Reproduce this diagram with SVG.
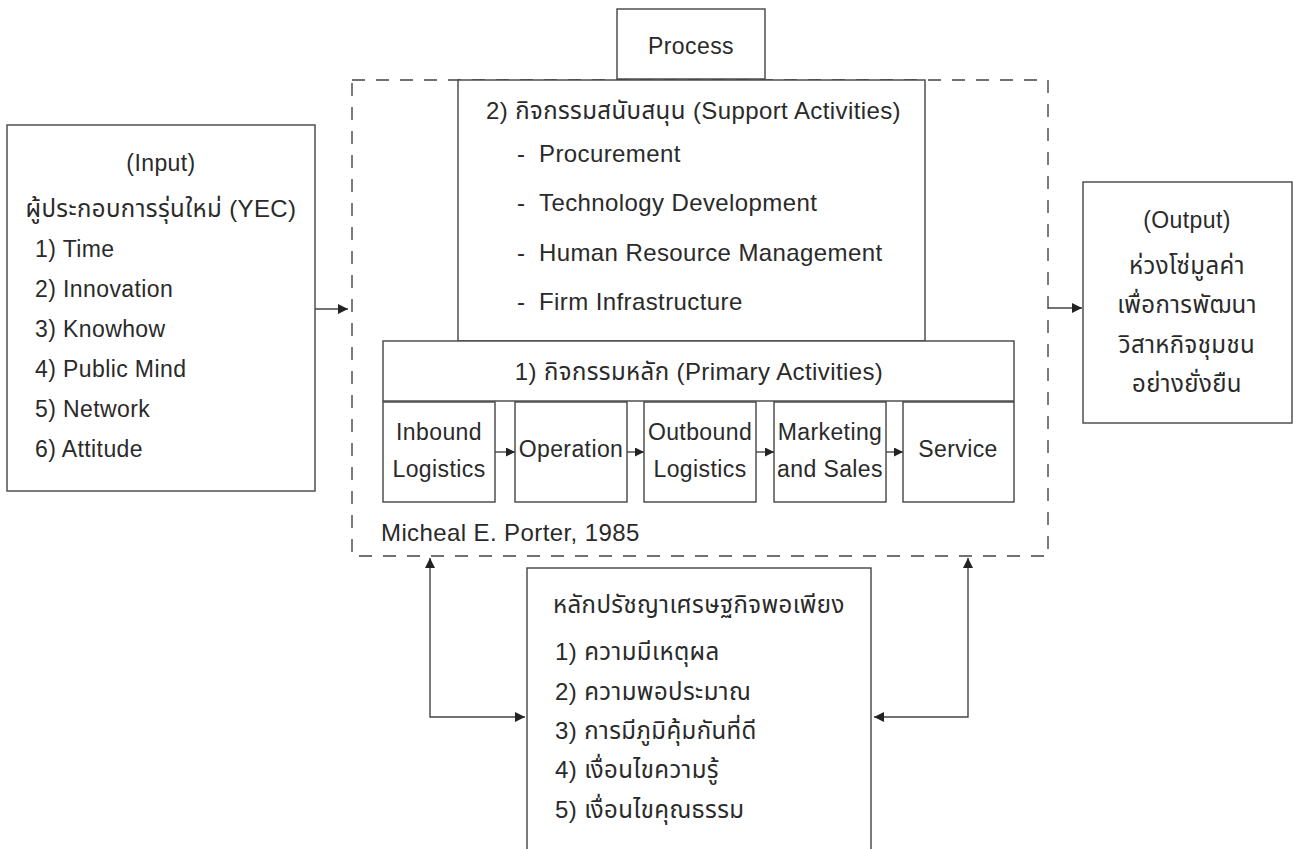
<svg xmlns="http://www.w3.org/2000/svg" width="1293" height="849" viewBox="0 0 1293 849">
<style>
  .box { fill: #ffffff; stroke: #444444; stroke-width: 1.4; }
  .dash { fill: none; stroke: #444444; stroke-width: 1.4; stroke-dasharray: 13 11; }
  .conn { fill: none; stroke: #444444; stroke-width: 1.4; }
  text { font-family: "Liberation Sans", "Noto Sans Thai", "Noto Sans", sans-serif; font-size: 23px; fill: #2a2a2a; letter-spacing: 0.4px; }
  .c { text-anchor: middle; }
  .th { font-size: 24px; }
</style>
<defs>
  <marker id="ah" viewBox="0 0 10 10" refX="10" refY="5" markerWidth="10" markerHeight="10" markerUnits="userSpaceOnUse" orient="auto-start-reverse">
    <path d="M0,0 L10,5 L0,10 z" fill="#222222"/>
  </marker>
  <marker id="ahs" viewBox="0 0 10 10" refX="10" refY="5" markerWidth="9" markerHeight="9" markerUnits="userSpaceOnUse" orient="auto">
    <path d="M0,0 L10,5 L0,10 z" fill="#222222"/>
  </marker>
</defs>
<rect width="1293" height="849" fill="#ffffff"/>

<g id="process-frame">
  <rect class="dash" x="352" y="80" width="696" height="476"/>
  <text class="th" x="381" y="541">Micheal E. Porter, 1985</text>
</g>

<g id="process-label">
  <rect class="box" x="617" y="9" width="148" height="70"/>
  <text class="c" x="691" y="54">Process</text>
</g>

<g id="input">
  <rect class="box" x="7" y="125" width="308" height="366"/>
  <text class="c" x="161" y="171">(Input)</text>
  <text class="c th" x="161" y="217">ผู้ประกอบการรุ่นใหม่ (YEC)</text>
  <text x="35" y="257">1) Time</text>
  <text x="35" y="297">2) Innovation</text>
  <text x="35" y="337">3) Knowhow</text>
  <text x="35" y="377">4) Public Mind</text>
  <text x="35" y="417">5) Network</text>
  <text x="35" y="457">6) Attitude</text>
</g>

<g id="support">
  <rect class="box" x="458" y="80" width="467" height="261"/>
  <text class="th" x="486" y="119">2) กิจกรรมสนับสนุน (Support Activities)</text>
  <text class="th" x="517" y="162">-<tspan x="539">Procurement</tspan></text>
  <text class="th" x="517" y="211">-<tspan x="539">Technology Development</tspan></text>
  <text class="th" x="517" y="261">-<tspan x="539">Human Resource Management</tspan></text>
  <text class="th" x="517" y="310">-<tspan x="539">Firm Infrastructure</tspan></text>
</g>

<g id="primary">
  <rect class="box" x="383" y="341" width="631" height="60"/>
  <text class="c th" x="699" y="380">1) กิจกรรมหลัก (Primary Activities)</text>
</g>

<g id="inbound">
  <rect class="box" x="383" y="402" width="112" height="100"/>
  <text class="c" x="439" y="440">Inbound</text>
  <text class="c" x="439" y="477">Logistics</text>
</g>
<g id="operation">
  <rect class="box" x="515" y="402" width="112" height="100"/>
  <text class="c" x="571" y="457">Operation</text>
</g>
<g id="outbound">
  <rect class="box" x="644" y="402" width="112" height="100"/>
  <text class="c" x="700" y="440">Outbound</text>
  <text class="c" x="700" y="477">Logistics</text>
</g>
<g id="marketing">
  <rect class="box" x="774" y="402" width="112" height="100"/>
  <text class="c" x="830" y="440">Marketing</text>
  <text class="c" x="830" y="477">and Sales</text>
</g>
<g id="service">
  <rect class="box" x="903" y="402" width="111" height="100"/>
  <text class="c" x="958" y="457">Service</text>
</g>

<g id="output">
  <rect class="box" x="1083" y="182" width="209" height="241"/>
  <text class="c" x="1187" y="228">(Output)</text>
  <text class="c th" x="1187" y="274">ห่วงโซ่มูลค่า</text>
  <text class="c th" x="1187" y="313">เพื่อการพัฒนา</text>
  <text class="c th" x="1187" y="353">วิสาหกิจชุมชน</text>
  <text class="c th" x="1187" y="392">อย่างยั่งยืน</text>
</g>

<g id="sufficiency">
  <rect class="box" x="527" y="568" width="344" height="320"/>
  <text class="th" x="553" y="613">หลักปรัชญาเศรษฐกิจพอเพียง</text>
  <text class="th" x="555" y="660">1) ความมีเหตุผล</text>
  <text class="th" x="555" y="700">2) ความพอประมาณ</text>
  <text class="th" x="555" y="739">3) การมีภูมิคุ้มกันที่ดี</text>
  <text class="th" x="555" y="778">4) เงื่อนไขความรู้</text>
  <text class="th" x="555" y="818">5) เงื่อนไขคุณธรรม</text>
</g>

<g id="connectors">
  <line class="conn" x1="315" y1="309" x2="348" y2="309" marker-end="url(#ah)"/>
  <line class="conn" x1="1048" y1="308" x2="1082" y2="308" marker-end="url(#ah)"/>
  <line class="conn" x1="495" y1="452" x2="515" y2="452" marker-end="url(#ahs)"/>
  <line class="conn" x1="627" y1="452" x2="644" y2="452" marker-end="url(#ahs)"/>
  <line class="conn" x1="756" y1="452" x2="774" y2="452" marker-end="url(#ahs)"/>
  <line class="conn" x1="886" y1="452" x2="903" y2="452" marker-end="url(#ahs)"/>
  <polyline class="conn" points="525,717 430,717 430,558" marker-start="url(#ah)" marker-end="url(#ah)"/>
  <polyline class="conn" points="874,717 968,717 968,558" marker-start="url(#ah)" marker-end="url(#ah)"/>
</g>
</svg>
